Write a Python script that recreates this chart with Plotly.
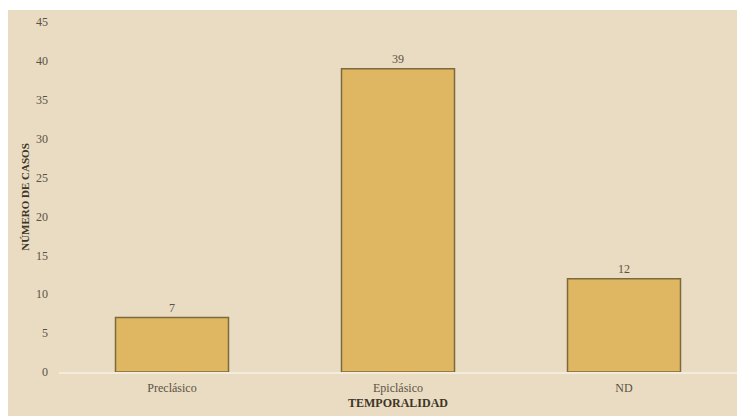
import plotly.graph_objects as go

categories = ["Preclásico", "Epiclásico", "ND"]
values = [7, 39, 12]
y_ticks = [0, 5, 10, 15, 20, 25, 30, 35, 40, 45]

BG = "#E9DCC2"
TXT = "#5b5244"
FONT = "Liberation Serif, DejaVu Serif, serif"

fig = go.Figure()
fig.add_trace(go.Bar(
    x=categories, y=values, width=0.5,
    marker=dict(color="#DFB763", line=dict(color="#7d6a3c", width=1.5)),
    text=[str(v) for v in values], textposition="outside",
    textfont=dict(family=FONT, size=12, color=TXT),
    cliponaxis=False,
))

# white strips along top and left edges (outside the plot area)
L, R, T, B = 59, 0, 22, 44
W, H = 737, 416
pw, ph = W - L - R, H - T - B
fig.add_shape(type="rect", xref="paper", yref="paper",
              x0=-L / pw - 0.01, x1=1.01,
              y0=1 + (T - 10) / ph, y1=1 + T / ph + 0.01,
              fillcolor="white", line_width=0, layer="above")
fig.add_shape(type="rect", xref="paper", yref="paper",
              x0=-L / pw - 0.01, x1=-(L - 8) / pw,
              y0=-B / ph - 0.01, y1=1 + T / ph + 0.01,
              fillcolor="white", line_width=0, layer="above")

fig.update_layout(
    width=W, height=H,
    margin=dict(l=L, r=R, t=T, b=B),
    paper_bgcolor=BG, plot_bgcolor=BG,
    showlegend=False,
    font=dict(family=FONT, color=TXT, size=12),
    bargap=0.5,
    xaxis=dict(
        showgrid=False, showline=True, linecolor="#F3ECDD", linewidth=1.5,
        ticks="", ticklabelstandoff=4, tickfont=dict(family=FONT, size=12, color=TXT),
        title=dict(text="<b>TEMPORALIDAD</b>", font=dict(family=FONT, size=12, color="#3e3526"), standoff=4),
    ),
    yaxis=dict(
        range=[0, 45], tickvals=y_ticks, showgrid=False, zeroline=False,
        showline=False, ticks="", ticklabelstandoff=10,
        tickfont=dict(family=FONT, size=12, color=TXT),
        title=dict(text="<b>NÚMERO DE CASOS</b>", font=dict(family=FONT, size=11, color="#3e3526"), standoff=4),
    ),
)

fig.write_html("out.html")
